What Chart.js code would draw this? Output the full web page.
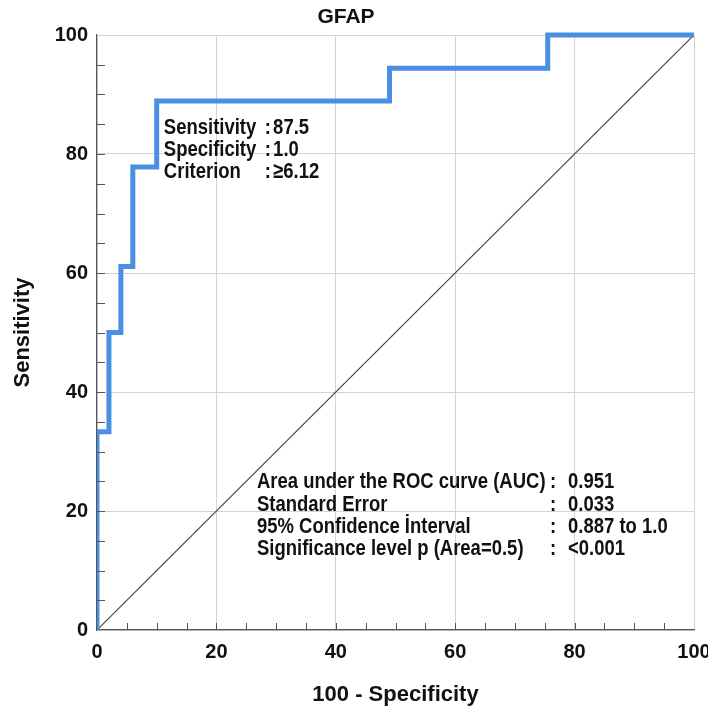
<!DOCTYPE html>
<html>
<head>
<meta charset="utf-8">
<script src="https://cdn.jsdelivr.net/npm/chart.js@4"></script>
<style>
    html, body { margin: 0; padding: 0; background: #fff; }
    #wrap { width: 708px; height: 713px; }
</style>
</head>
<body>
<div id="wrap"><canvas id="rocChart" width="708" height="713"></canvas></div>
<script>
// ROC curve (100 - specificity vs sensitivity)
const fprValues = [0, 0, 2, 2, 4, 4, 6, 6, 10, 10, 49, 49, 75.5, 75.5, 100];
const tprValues = [0, 33.3, 33.3, 50, 50, 61.1, 61.1, 77.8, 77.8, 88.9, 88.9, 94.4, 94.4, 100, 100];
const refX = [0, 100];
const refY = [0, 100];

const cutoffLabels = ['Sensitivity', 'Specificity', 'Criterion'];
const cutoffValues = ['87.5', '1.0', '≥6.12'];
const statLabels = ['Area under the ROC curve (AUC)', 'Standard Error', '95% Confidence İnterval', 'Significance level p (Area=0.5)'];
const statValues = ['0.951', '0.033', '0.887 to 1.0', '<0.001'];

const fontFamily = '"Liberation Sans", Arial, sans-serif';

// squeeze text sideways, the original uses a narrow face
function narrowText(ctx, text, x, y, squeeze) {
    ctx.save();
    ctx.translate(x, y);
    ctx.scale(squeeze, 1);
    ctx.fillText(text, 0, 0);
    ctx.restore();
}

const textPlugin = {
    id: 'rocText',
    afterDraw(chart) {
        const ctx = chart.ctx;
        const xs = chart.scales.x;
        const ys = chart.scales.y;
        ctx.save();

        // minor ticks pointing into the plot
        ctx.strokeStyle = '#555';
        ctx.lineWidth = 1;
        for (let v = 5; v < 100; v += 5) {
            const px = Math.round(xs.getPixelForValue(v)) + 0.5;
            const py = Math.round(ys.getPixelForValue(v)) + 0.5;
            ctx.beginPath();
            ctx.moveTo(px, ys.bottom);
            ctx.lineTo(px, ys.bottom - 7);
            ctx.moveTo(xs.left, py);
            ctx.lineTo(xs.left + 8, py);
            ctx.stroke();
        }

        ctx.fillStyle = '#111';
        ctx.textBaseline = 'middle';

        ctx.font = 'bold 21px ' + fontFamily;
        ctx.textAlign = 'center';
        ctx.fillText('GFAP', 346, 17);
        ctx.font = 'bold 22px ' + fontFamily;
        ctx.fillText('100 - Specificity', (xs.left + xs.right) / 2, 695);
        ctx.save();
        ctx.translate(23, (ys.top + ys.bottom) / 2);
        ctx.rotate(-Math.PI / 2);
        ctx.fillText('Sensitivity', 0, 0);
        ctx.restore();

        ctx.textAlign = 'left';
        ctx.font = 'bold 22px ' + fontFamily;
        const cutoffRows = [84.4, 80.7, 77.0];
        cutoffLabels.forEach((lab, i) => {
            const py = ys.getPixelForValue(cutoffRows[i]);
            narrowText(ctx, lab, xs.getPixelForValue(11.2), py, 0.84);
            narrowText(ctx, ':', xs.getPixelForValue(28.1), py, 0.84);
            narrowText(ctx, cutoffValues[i], xs.getPixelForValue(29.5), py, 0.84);
        });

        const statRows = [24.9, 21.0, 17.3, 13.6];
        statLabels.forEach((lab, i) => {
            const py = ys.getPixelForValue(statRows[i]);
            narrowText(ctx, lab, xs.getPixelForValue(26.8), py, 0.84);
            narrowText(ctx, ':', xs.getPixelForValue(75.9), py, 0.84);
            narrowText(ctx, statValues[i], xs.getPixelForValue(78.9), py, 0.84);
        });

        ctx.restore();
    }
};

const ctx = document.getElementById('rocChart').getContext('2d');

new Chart(ctx, {
    type: 'scatter',
    data: {
        datasets: [
            {
                label: 'Reference',
                data: refX.map((x, i) => ({ x: x, y: refY[i] })),
                showLine: true,
                borderColor: '#444',
                borderWidth: 1.2,
                pointRadius: 0,
                order: 2
            },
            {
                label: 'GFAP',
                data: fprValues.map((x, i) => ({ x: x, y: tprValues[i] })),
                showLine: true,
                borderColor: '#4a90e2',
                borderWidth: 5,
                pointRadius: 0,
                borderJoinStyle: 'miter',
                clip: { left: 0, top: 5, right: 5, bottom: 0 },
                order: 1
            }
        ]
    },
    options: {
        responsive: false,
        animation: false,
        layout: {
            autoPadding: false,
            padding: { top: 35, right: 14, left: 0, bottom: 0 }
        },
        plugins: {
            legend: { display: false },
            title: { display: false },
            tooltip: { enabled: false }
        },
        scales: {
            x: {
                type: 'linear',
                min: 0,
                max: 100,
                afterFit: (scale) => {
                    scale.height = 83;
                    scale.paddingLeft = 0;
                    scale.paddingRight = 0;
                },
                ticks: {
                    stepSize: 20,
                    padding: 10,
                    color: '#111',
                    font: { family: fontFamily, size: 20, weight: 'bold' }
                },
                grid: {
                    color: '#d4d4d4',
                    drawTicks: false
                },
                border: { color: '#555', width: 1.2 }
            },
            y: {
                type: 'linear',
                min: 0,
                max: 100,
                afterFit: (scale) => {
                    scale.width = 97;
                    scale.paddingTop = 0;
                    scale.paddingBottom = 0;
                },
                ticks: {
                    stepSize: 20,
                    padding: 9,
                    color: '#111',
                    font: { family: fontFamily, size: 20, weight: 'bold' }
                },
                grid: {
                    color: '#d4d4d4',
                    drawTicks: false
                },
                border: { color: '#555', width: 1.2 }
            }
        }
    },
    plugins: [textPlugin]
});
</script>
</body>
</html>
